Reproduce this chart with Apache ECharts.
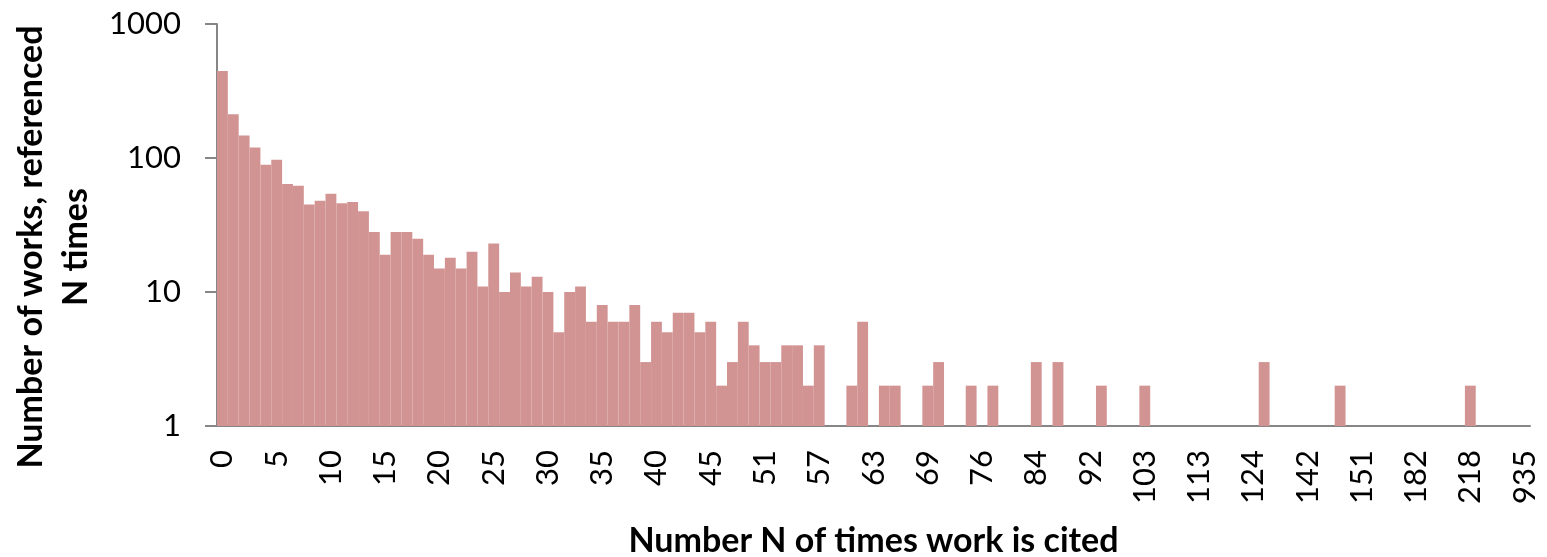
<!DOCTYPE html>
<html>
<head>
<meta charset="utf-8">
<script src="https://cdn.jsdelivr.net/npm/echarts@6/dist/echarts.min.js"></script>
<style>
  html, body { margin: 0; padding: 0; background: #fff; }
  #chart { width: 1547px; height: 557px; }
</style>
</head>
<body>
<div id="chart"></div>
<script>
// times a work is cited (category labels, only every 5th is shown)
const timesCited = [
  0, 1, 2, 3, 4, 5, 6, 7, 8, 9,
  10, 11, 12, 13, 14, 15, 16, 17, 18, 19,
  20, 21, 22, 23, 24, 25, 26, 27, 28, 29,
  30, 31, 32, 33, 34, 35, 36, 37, 38, 39,
  40, 41, 42, 43, 44, 45, 46, 47, 48, 49,
  51, 52, 53, 54, 55, 57, 58, 59, 60, 61,
  63, 64, 65, 66, 68, 69, 70, 72, 73, 75,
  76, 77, 79, 80, 82, 84, 85, 87, 88, 90,
  92, 94, 96, 98, 100, 103, 105, 107, 109, 111,
  113, 115, 117, 119, 121, 124, 127, 131, 134, 138,
  142, 143, 145, 147, 149, 151, 156, 162, 167, 175,
  182, 189, 197, 204, 211, 218, 245, 290, 366, 520,
  935
];

// number of works referenced N times
const worksCount = [
  445, 212, 147, 120, 89, 97, 64, 62, 45, 48,
  54, 46, 47, 40, 28, 19, 28, 28, 25, 19,
  15, 18, 15, 20, 11, 23, 10, 14, 11, 13,
  10, 5, 10, 11, 6, 8, 6, 6, 8, 3,
  6, 5, 7, 7, 5, 6, 2, 3, 6, 4,
  3, 3, 4, 4, 2, 4, 1, 1, 2, 6,
  1, 2, 2, 1, 1, 2, 3, 1, 1, 2,
  1, 2, 1, 1, 1, 3, 1, 3, 1, 1,
  1, 2, 1, 1, 1, 2, 1, 1, 1, 1,
  1, 1, 1, 1, 1, 1, 3, 1, 1, 1,
  1, 1, 1, 2, 1, 1, 1, 1, 1, 1,
  1, 1, 1, 1, 1, 2, 1, 1, 1, 1,
  1
];

const yTitle = "Number of works, referenced\nN times";
const xTitle = "Number N of times work is cited";

const chart = echarts.init(document.getElementById("chart"));
const axisGrey = "#868686";

const option = {
  animation: false,
  grid: { left: 217, right: 17, top: 24, bottom: 131, outerBoundsMode: "none" },
  xAxis: {
    type: "category",
    data: timesCited,
    name: xTitle,
    nameLocation: "middle",
    nameGap: 98,
    nameTextStyle: { fontFamily: "Lato", fontWeight: "bold", fontSize: 34, color: "#000" },
    axisLine: { lineStyle: { color: axisGrey, width: 2 } },
    axisTick: { show: false },
    axisLabel: {
      interval: 4,
      rotate: 90,
      margin: 24,
      fontFamily: "Lato",
      fontSize: 31,
      color: "#000"
    }
  },
  yAxis: {
    type: "log",
    logBase: 10,
    min: 1,
    max: 1000,
    name: yTitle,
    nameLocation: "middle",
    nameGap: 117,
    nameRotate: 90,
    nameTextStyle: {
      fontFamily: "Lato",
      fontWeight: "bold",
      fontSize: 34,
      lineHeight: 45,
      color: "#000",
      padding: [0, 44, 0, 0]
    },
    axisLine: { show: true, lineStyle: { color: axisGrey, width: 2 } },
    axisTick: { show: true, length: 12, lineStyle: { color: axisGrey, width: 2 } },
    minorTick: { show: false },
    splitLine: { show: false },
    axisLabel: {
      margin: 36,
      fontFamily: "Lato",
      fontSize: 31,
      color: "#000",
      formatter: (v) => String(v)
    }
  },
  series: [
    {
      name: "works",
      type: "bar",
      data: worksCount,
      barCategoryGap: "0%",
      itemStyle: { color: "#D29493" }
    }
  ]
};

chart.setOption(option);
window.addEventListener("resize", () => {
  chart.resize();
});
</script>
</body>
</html>
